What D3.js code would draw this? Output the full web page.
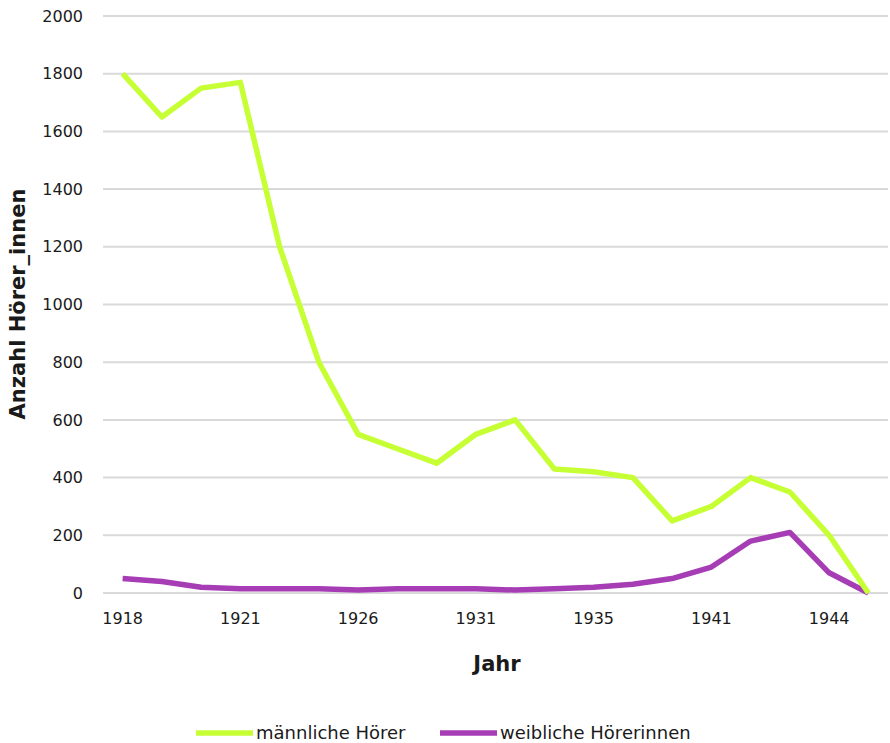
<!DOCTYPE html>
<html>
<head>
<meta charset="utf-8">
<script src="https://cdn.jsdelivr.net/npm/d3@7"></script>
<style>
  body { margin: 0; background: #fff; }
  svg text { font-family: "DejaVu Sans", sans-serif; fill: #1a1a1a; }
</style>
</head>
<body>
<svg id="chart"></svg>
<script>
// categories (only every third one is labelled on the axis)
var years = ["1918", "1919", "1920", "1921", "1922", "1924", "1926", "1927", "1929", "1931",
  "1932", "1934", "1935", "1937", "1939", "1941", "1942", "1943", "1944", "1945"];
var shownYears = ["1918", "1921", "1926", "1931", "1935", "1941", "1944"];
var maleValues = [1800, 1650, 1750, 1770, 1200, 800, 550, 500, 450, 550,
  600, 430, 420, 400, 250, 300, 400, 350, 200, 0];
var femaleValues = [50, 40, 20, 15, 15, 15, 10, 15, 15, 15,
  10, 15, 20, 30, 50, 90, 180, 210, 70, 0];
var yTicks = [0, 200, 400, 600, 800, 1000, 1200, 1400, 1600, 1800, 2000];
var seriesNames = ["männliche Hörer", "weibliche Hörerinnen"];

var width = 890, height = 743;
var margin = { top: 16, right: 2, bottom: 150, left: 103 };

var svg = d3.select("#chart").attr("width", width).attr("height", height);

var x = d3.scaleBand().domain(years).range([margin.left, width - margin.right]);
var y = d3.scaleLinear().domain([0, 2000]).range([height - margin.bottom, margin.top]);

// gridlines
svg.append("g")
  .selectAll("line")
  .data(yTicks)
  .enter()
  .append("line")
  .attr("x1", margin.left)
  .attr("x2", width - margin.right)
  .attr("y1", function (d) { return y(d); })
  .attr("y2", function (d) { return y(d); })
  .attr("stroke", "#d9d9d9")
  .attr("stroke-width", 2);

// y axis labels
var yaxis = d3.axisLeft(y).tickValues(yTicks).tickFormat(d3.format("d")).tickSize(0).tickPadding(0);
var gy = svg.append("g")
  .attr("transform", "translate(" + (margin.left - 20) + ",0)")
  .call(yaxis);
gy.select(".domain").remove();
gy.selectAll("text").style("font-size", "16px").style("font-family", "DejaVu Sans, sans-serif").attr("fill", "#1a1a1a");

// x axis labels
var xaxis = d3.axisBottom(x).tickValues(shownYears).tickSize(0).tickPadding(0);
var gx = svg.append("g")
  .attr("transform", "translate(0," + (y(0) + 20) + ")")
  .call(xaxis);
gx.select(".domain").remove();
gx.selectAll("text").style("font-size", "16px").style("font-family", "DejaVu Sans, sans-serif").attr("fill", "#1a1a1a");

// axis titles
svg.append("text")
  .attr("text-anchor", "middle")
  .attr("transform", "translate(" + 25 + "," + 304 + ")rotate(-90)")
  .style("font-size", "21px")
  .style("font-weight", "bold")
  .text("Anzahl Hörer_innen");
svg.append("text")
  .attr("text-anchor", "middle")
  .attr("x", 497)
  .attr("y", 671)
  .style("font-size", "21px")
  .style("font-weight", "bold")
  .text("Jahr");

var line = d3.line()
  .x(function (d, i) { return x(years[i]) + x.bandwidth() / 2; })
  .y(function (d) { return y(d); });

var colors = ["#c6ff33", "#a63db5"];
svg.append("path")
  .attr("fill", "none")
  .attr("stroke", colors[1])
  .attr("stroke-width", 5.5)
  .attr("stroke-linejoin", "round")
  .attr("d", line(femaleValues));
svg.append("path")
  .attr("fill", "none")
  .attr("stroke", colors[0])
  .attr("stroke-width", 5.5)
  .attr("stroke-linejoin", "round")
  .attr("d", line(maleValues));

// legend
var legendX = [196, 440];
seriesNames.forEach(function (name, i) {
  var g = svg.append("g").attr("transform", "translate(" + legendX[i] + ",733)");
  g.append("line")
    .attr("x1", 0).attr("x2", 57)
    .attr("y1", 0).attr("y2", 0)
    .attr("stroke", colors[i])
    .attr("stroke-width", 5.5);
  g.append("text")
    .attr("x", 60)
    .attr("y", 6)
    .style("font-size", "18px")
    .text(name);
});
</script>
</body>
</html>
